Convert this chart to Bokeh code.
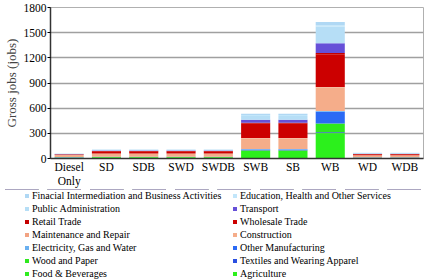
from bokeh.plotting import figure
from bokeh.models import ColumnDataSource, FactorRange, FixedTicker, Legend, LegendItem
from bokeh.layouts import column
from bokeh.embed import file_html
from bokeh.resources import INLINE

categories = ["Diesel\nOnly", "SD", "SDB", "SWD", "SWDB", "SWB", "SB", "WB", "WD", "WDB"]

# stacking order bottom -> top
agriculture   = [8, 14, 14, 14, 14, 88, 88, 300, 8, 8]
food_bev      = [3, 3, 3, 3, 3, 5, 5, 5, 2, 2]
textiles      = [1, 1, 1, 1, 1, 5, 5, 8, 1, 1]
wood_paper    = [1, 1, 1, 1, 1, 2, 2, 105, 1, 1]
other_manuf   = [2, 1, 1, 1, 1, 6, 6, 138, 1, 1]
electricity   = [2, 2, 2, 2, 2, 6, 6, 10, 1, 1]
construction  = [25, 33, 33, 33, 33, 125, 125, 280, 24, 24]
maintenance   = [3, 4, 4, 4, 4, 8, 8, 6, 2, 2]
wholesale     = [5, 28, 28, 28, 28, 170, 170, 392, 12, 12]
retail        = [1, 3, 3, 3, 3, 10, 10, 14, 2, 2]
transport     = [2, 4, 4, 4, 4, 38, 38, 115, 4, 4]
public_admin  = [4, 9, 9, 9, 9, 45, 45, 200, 8, 8]
education     = [2, 2, 2, 2, 2, 10, 10, 15, 2, 2]
financial     = [1, 2, 2, 2, 2, 15, 15, 40, 2, 2]

series_keys = ["agriculture", "food_bev", "textiles", "wood_paper", "other_manuf", "electricity",
               "construction", "maintenance", "wholesale", "retail", "transport",
               "public_admin", "education", "financial"]
series_labels = ["Agriculture", "Food & Beverages", "Textiles and Wearing Apparel", "Wood and Paper",
                 "Other Manufacturing", "Electricity, Gas and Water", "Construction",
                 "Maintenance and Repair", "Wholesale Trade", "Retail Trade", "Transport",
                 "Public Administration", "Education, Health and Other Services",
                 "Finacial Intermediation and Business Activities"]
series_colors = ["#2cf01c", "#30ec20", "#2a4fe0", "#2ee81e", "#2b6af5", "#6ab0f0",
                 "#f5ad8a", "#f2a382", "#cc0000", "#c40000", "#6650d8",
                 "#b6def6", "#c2e6fa", "#b0d8f4"]

data = dict(cat=categories, agriculture=agriculture, food_bev=food_bev, textiles=textiles,
            wood_paper=wood_paper, other_manuf=other_manuf, electricity=electricity,
            construction=construction, maintenance=maintenance, wholesale=wholesale,
            retail=retail, transport=transport, public_admin=public_admin,
            education=education, financial=financial)
source = ColumnDataSource(data)

FONT = "Liberation Serif"
MAIN_H = 189
LEG_H = 280 - MAIN_H

# ---------------- main chart ----------------
p = figure(width=425, height=MAIN_H, x_range=FactorRange(*categories, range_padding=0),
           y_range=(0, 1800), output_backend="svg", toolbar_location=None,
           min_border_left=50, min_border_right=2, min_border_top=7,
           min_border_bottom=MAIN_H - 159)
p.frame_align = False

renderers = p.vbar_stack(series_keys, x="cat", width=0.78, source=source,
                         color=series_colors, line_color=None)

p.yaxis.ticker = FixedTicker(ticks=[0, 300, 600, 900, 1200, 1500, 1800])
p.yaxis.axis_label = "Gross jobs (jobs)"
p.yaxis.axis_label_text_font = FONT
p.yaxis.axis_label_text_font_style = "normal"
p.yaxis.axis_label_text_font_size = "13px"
p.yaxis.axis_label_standoff = 2
p.yaxis.major_label_text_font = FONT
p.yaxis.major_label_text_font_size = "11.5px"
p.yaxis.major_tick_in = 0
p.yaxis.major_tick_out = 3
p.yaxis.minor_tick_line_color = None
p.yaxis.major_label_standoff = 1

p.xaxis.major_label_text_font = FONT
p.xaxis.major_label_text_font_size = "11.5px"
p.xaxis.major_tick_line_color = None
p.xaxis.major_tick_out = 0
p.xaxis.major_tick_in = 0
p.xaxis.major_label_standoff = 2

for ax in (p.xaxis, p.yaxis):
    ax.axis_line_color = "#333333"
    ax.axis_line_width = 1.5
    ax.major_label_text_color = "black"

p.xgrid.grid_line_color = None
p.ygrid.grid_line_color = "#a0a0a0"
p.ygrid.grid_line_width = 1.5
p.outline_line_color = "#b0b0b0"
p.background_fill_color = "white"
p.border_fill_color = "white"

# ---------------- legend panel ----------------
# the legend proxies reuse the same stacked data on a y-range that shows no bar
q = figure(width=425, height=LEG_H, x_range=FactorRange(*categories), y_range=(-2, -1),
           output_backend="svg", toolbar_location=None,
           x_axis_location=None, y_axis_location=None,
           min_border_left=0, min_border_right=0, min_border_top=0, min_border_bottom=0)
q.frame_align = False
q.grid.grid_line_color = None
q.outline_line_color = None
q.border_fill_color = "white"
q.background_fill_color = "white"

swatches = q.vbar_stack(series_keys, x="cat", width=0.78, source=source,
                        color=series_colors, line_color=None)

order = list(range(len(series_keys)))[::-1]
left_idx = order[0::2]
right_idx = order[1::2]

legend_props = Legend.properties()

def make_legend(idx, x0):
    items = [LegendItem(label=series_labels[i], renderers=[swatches[i]]) for i in idx]
    kw = dict(location=(x0, LEG_H - 13 * len(idx)), orientation="vertical",
              label_text_font=FONT, label_text_font_size="10px", label_text_color="black",
              label_height=13, label_standoff=3, glyph_width=5, glyph_height=5,
              spacing=0, padding=0, margin=0, border_line_color=None, border_line_alpha=0,
              background_fill_color=None, background_fill_alpha=0)
    if "item_background_fill_alpha" in legend_props:
        kw["item_background_fill_alpha"] = 0
    if "item_background_policy" in legend_props:
        kw["item_background_policy"] = "none"
    return Legend(items=items, **kw)

q.add_layout(make_legend(left_idx, 24), "center")
q.add_layout(make_legend(right_idx, 232), "center")

layout = column(p, q, spacing=0)
open("out.html", "w").write(file_html(layout, INLINE))
